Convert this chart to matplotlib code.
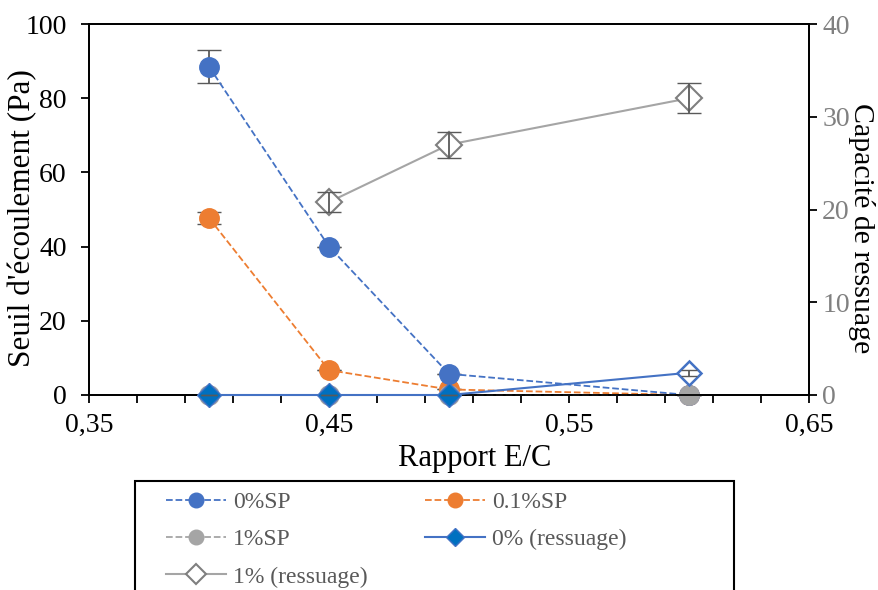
import numpy as np
import matplotlib
matplotlib.use('Agg')
import matplotlib.pyplot as plt
from matplotlib.ticker import FixedLocator, MultipleLocator, FuncFormatter
from matplotlib.patches import Rectangle

plt.rcParams['font.family'] = ['Liberation Serif', 'DejaVu Serif']

# data
ec = [0.40, 0.45, 0.50, 0.60]
sp0 = [88.5, 40.0, 5.7, 0.0]
sp0_err = [4.4, 0.0, 0.0, 0.0]
sp01 = [47.7, 6.7, 1.5, 0.0]
sp01_err = [1.5, 0.0, 0.0, 0.0]
sp1 = [0.0, 0.0, 0.0, 0.0]
ress0 = [0.0, 0.0, 0.0, 2.4]
ress0_err = [0.0, 0.0, 0.0, 0.3]
ec_r1 = [0.45, 0.50, 0.60]
ress1 = [20.8, 27.0, 32.0]
ress1_err = [1.1, 1.4, 1.6]

blue = '#4472C4'
orange = '#ED7D31'
gray = '#A5A5A5'
dblue = '#0070C0'
errc = '#595959'

W, H = 879, 590
fig = plt.figure(figsize=(W / 100, H / 100), dpi=100)
ax = fig.add_axes([89 / W, 1 - 395 / H, 720 / W, 371 / H])
ax2 = ax.twinx()

# primary axis: yield stress
ax.errorbar(ec, sp01, yerr=sp01_err, ls='none', ecolor=errc, elinewidth=1.3, capsize=8.5,
            zorder=2, clip_on=False)
l2, = ax.plot(ec, sp01, color=orange, ls='--', lw=1.3, marker='o', ms=14, label='0.1%SP',
              zorder=2, clip_on=False)
ax.errorbar(ec, sp0, yerr=sp0_err, ls='none', ecolor=errc, elinewidth=1.3, capsize=8.5,
            zorder=3, clip_on=False)
l1, = ax.plot(ec, sp0, color=blue, ls='--', lw=1.3, marker='o', ms=14, label='0%SP',
              zorder=3, clip_on=False)
l3, = ax.plot(ec, sp1, color=gray, ls='--', lw=1.3, marker='o', ms=14, label='1%SP',
              zorder=4, clip_on=False)

# secondary axis: bleeding
l4, = ax2.plot(ec, ress0, color=blue, lw=1.5, marker='D', ms=12, mfc=dblue, mec=blue,
               markevery=[0, 1, 2], label='0% (ressuage)', zorder=3, clip_on=False)
ax2.plot(ec, ress0, ls='none', marker='D', ms=12.5, mfc='white', mec=blue, mew=1.8,
         markevery=[3], zorder=3, clip_on=False)
ax2.errorbar(ec, ress0, yerr=ress0_err, ls='none', ecolor=errc, elinewidth=1.3, capsize=6,
             zorder=4, clip_on=False)
l5, = ax2.plot(ec_r1, ress1, color=gray, lw=1.5, marker='D', ms=13.5, mfc='white',
               mec='#7F7F7F', mew=1.5, label='1% (ressuage)', zorder=2)
ax2.errorbar(ec_r1, ress1, yerr=ress1_err, ls='none', ecolor=errc, elinewidth=1.3, capsize=8.5, zorder=2)

ax.set_xlim(0.35, 0.65)
ax.set_ylim(0, 100)
ax2.set_ylim(0, 40)
ax.xaxis.set_major_locator(FixedLocator(np.arange(0.35, 0.66, 0.1)))
ax.xaxis.set_minor_locator(FixedLocator(np.arange(0.35, 0.651, 0.02)))
ax.xaxis.set_major_formatter(FuncFormatter(lambda v, p: ('%.2f' % v).replace('.', ',')))
ax.yaxis.set_major_locator(MultipleLocator(20))
ax2.yaxis.set_major_locator(MultipleLocator(10))

ax.tick_params(axis='x', which='both', direction='out', length=6, width=1.3, labelsize=20, pad=7)
ax.tick_params(axis='y', direction='out', length=6, width=1.3, labelsize=20, pad=10)
ax2.tick_params(axis='y', direction='out', length=6, width=1.3, labelsize=20, labelcolor='#808080')
for a in (ax, ax2):
    for s in a.spines.values():
        s.set_linewidth(1.3)

ax.set_xlabel('Rapport E/C', fontsize=22, labelpad=4)
ax.xaxis.label.set_x(0.535)
ax.set_ylabel("Seuil d'écoulement (Pa)", fontsize=22.5)
ax.yaxis.set_label_coords(-0.072, 0.476)
ax2.set_ylabel('Capacité de ressuage', fontsize=21.5, rotation=-90)
ax2.yaxis.set_label_coords(1.092, 0.45)

# legend (excel style: box that runs off the bottom)
fig.patches.append(Rectangle((135 / W, -0.05), 599 / W, 0.05 + 1 - 481 / H,
                             transform=fig.transFigure, fill=False, ec='black', lw=1.5))
handles = [l1, l3, l5, l2, l4]
labels = ['0%SP', '1%SP', '1% (ressuage)', '0.1%SP', '0% (ressuage)']
fig.legend(handles, labels, ncol=2, loc='upper left',
           bbox_to_anchor=(154 / W, 1 - 480 / H), frameon=False, borderpad=0,
           fontsize=17, handlelength=2.55, handletextpad=0.3, markerscale=0.75,
           labelcolor='#595959', labelspacing=0.66, columnspacing=2.43)

fig.savefig('out.png', dpi=100)
